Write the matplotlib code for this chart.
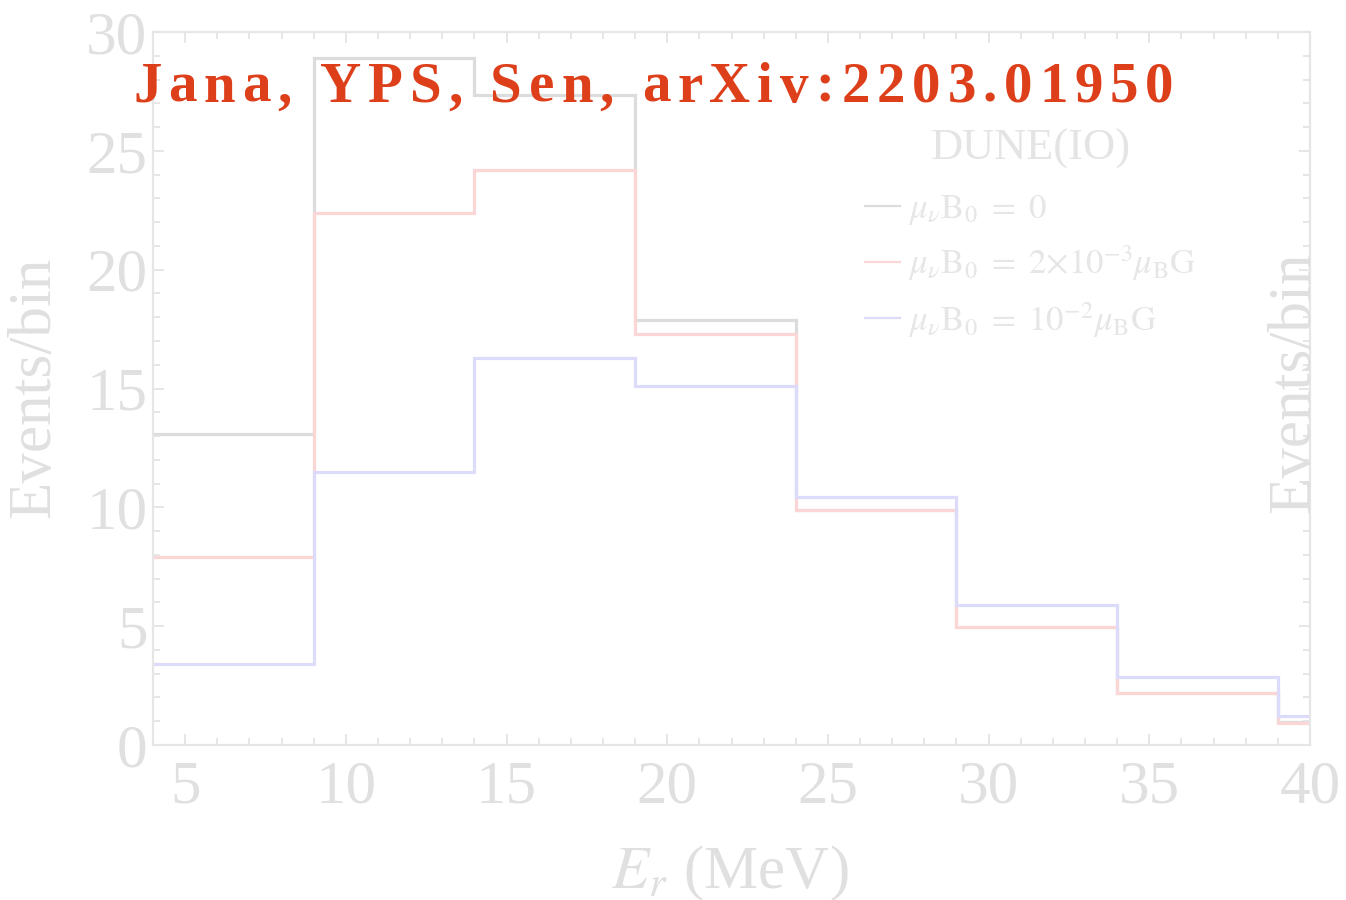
import matplotlib
matplotlib.use("Agg")
import matplotlib.pyplot as plt
from matplotlib.lines import Line2D
from matplotlib.ticker import MultipleLocator

# ---------------- data ----------------
bin_edges = [4, 9, 14, 19, 24, 29, 34, 39, 40]
events_zero = [13.1, 28.9, 27.35, 17.9, 9.9, 4.95, 2.2, 0.95]
events_2e3 = [7.9, 22.4, 24.2, 17.3, 9.9, 4.95, 2.2, 0.93]
events_1e2 = [3.4, 11.5, 16.3, 15.1, 10.45, 5.9, 2.86, 1.22]
series_labels = [r'$\mu_\nu \mathrm{B}_0\ =\ 0$',
                 r'$\mu_\nu \mathrm{B}_0\ =\ 2{\times}10^{-3}\mu_\mathrm{B}\mathrm{G}$',
                 r'$\mu_\nu \mathrm{B}_0\ =\ 10^{-2}\mu_\mathrm{B}\mathrm{G}$']
legend_title = "DUNE(IO)"
x_ticks = [5, 10, 15, 20, 25, 30, 35, 40]
y_ticks = [0, 5, 10, 15, 20, 25, 30]
watermark = "Jana, YPS, Sen, arXiv:2203.01950"

# ---------------- style ----------------
plt.rcParams['font.family'] = ['Liberation Serif', 'DejaVu Serif']
plt.rcParams['mathtext.fontset'] = 'stix'

W, H = 1346, 900
fig = plt.figure(figsize=(W / 100, H / 100), dpi=100)
ax = fig.add_axes([153 / W, 1 - 745 / H, (1310 - 153) / W, (745 - 32) / H])

frame_c = '#e6e6e6'
tick_c = '#e2e2e2'
label_c = '#e0e0e0'
col_black = '#dcdcdc'
col_red = '#fad6d6'
col_blue = '#dcdcfa'

lw = 2.3
ax.stairs(events_zero, bin_edges, color=col_black, lw=lw, baseline=None)
ax.stairs(events_2e3, bin_edges, color=col_red, lw=lw, baseline=None)
ax.stairs(events_1e2, bin_edges, color=col_blue, lw=lw, baseline=None)

ax.set_xlim(4, 40)
ax.set_ylim(0, 30)
ax.set_xticks(x_ticks)
ax.set_yticks(y_ticks)
ax.xaxis.set_minor_locator(MultipleLocator(1))
ax.yaxis.set_minor_locator(MultipleLocator(1))
for s in ax.spines.values():
    s.set_color(frame_c)
    s.set_linewidth(1.6)
ax.tick_params(which='both', direction='in', top=True, right=True,
               color=tick_c, width=1.2)
ax.tick_params(which='major', length=8)
ax.tick_params(which='minor', length=5)
ax.tick_params(axis='x', which='major', labelsize=44, labelcolor=label_c, pad=11)
ax.tick_params(axis='y', which='major', labelsize=44, labelcolor=label_c, pad=4)

fig.text(35 / W, 1 - 387 / H, "Events/bin", rotation=90, ha='center', va='center',
         fontsize=44, color=label_c)
fig.text(1294 / W, 1 - 382 / H, "Events/bin", rotation=90, ha='center', va='center',
         fontsize=44, color=label_c)
fig.text(730 / W, 1 - 873 / H, r'$E_r$ (MeV)', ha='center', va='center',
         fontsize=44, color=label_c)

handles = [Line2D([], [], color=c, lw=1.6) for c in (col_black, col_red, col_blue)]
leg_fs = 25
leg = ax.legend(handles, series_labels, title=legend_title, loc='upper center',
                bbox_to_anchor=(1031 / W, 1 - 129 / H), bbox_transform=fig.transFigure,
                frameon=False, fontsize=leg_fs, title_fontsize=32, handlelength=1.0,
                handletextpad=0.25, labelspacing=0.47, borderpad=0, borderaxespad=0)
leg._legend_box.sep = 17
for t in leg.get_texts():
    t.set_color('#e6e6e6')
leg.get_title().set_color('#e4e4e4')

# ---------------- watermark with letter spacing ----------------
wm_color = '#de3f1b'
wm_size = 41
track = 4.95  # points between letters
space_pts = 0.25 * wm_size
prev = fig.text(133 / W, 1 - 102 / H, watermark[0], fontsize=wm_size, fontweight='bold',
                color=wm_color, ha='left', va='baseline')
extra = 0.0
for ch in watermark[1:]:
    if ch == ' ':
        extra += space_pts + track
        continue
    prev = ax.annotate(ch, xy=(1, 0), xycoords=prev, xytext=(track + extra, 0),
                       textcoords='offset points', fontsize=wm_size, fontweight='bold',
                       color=wm_color, ha='left', va='bottom', annotation_clip=False)
    extra = 0.0

fig.savefig("out.png", dpi=100)
